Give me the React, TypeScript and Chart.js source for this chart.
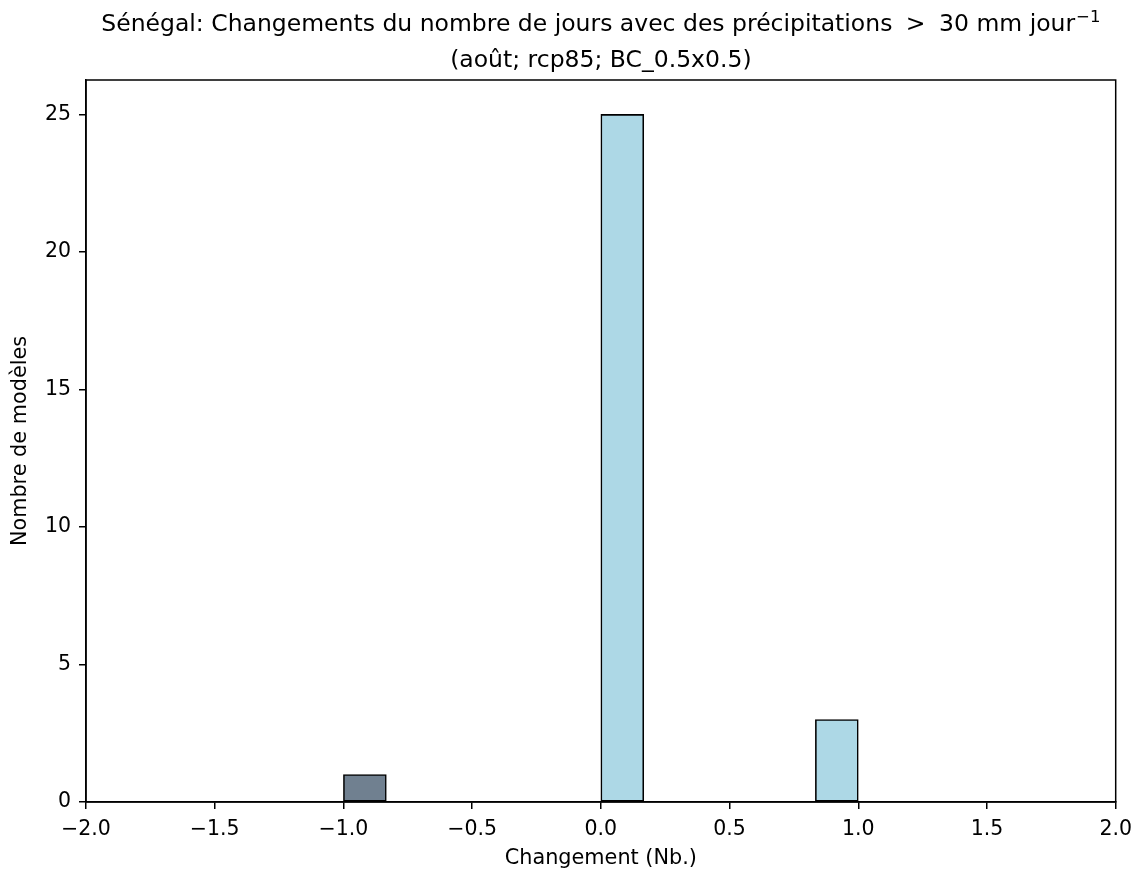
import { useEffect, useRef } from 'react';
import { Chart, registerables } from 'chart.js';

Chart.register(...registerables);

// ---- data ----
const binEdges = [-1, -0.833333, -0.666667, -0.5, -0.333333, -0.166667, 0, 0.166667, 0.333333, 0.5, 0.666667, 0.833333, 1];
const binCounts = [1, 0, 0, 0, 0, 0, 25, 0, 0, 0, 0, 3];
const xTicks = [-2, -1.5, -1, -0.5, 0, 0.5, 1, 1.5, 2];
const yTicks = [0, 5, 10, 15, 20, 25];
const xRange = [-2, 2];
const yRange = [0, 26.25];

const titleMain = 'Sénégal: Changements du nombre de jours avec des précipitations';
const titleRel = '>';
const titleTail = '30 mm jour';
const titleSup = '−1';
const titleLine2 = '(août; rcp85; BC_0.5x0.5)';
const xLabel = 'Changement (Nb.)';
const yLabel = 'Nombre de modèles';

const NEG_COLOR = '#708090';
const POS_COLOR = '#ADD8E6';
const FONT = '"DejaVu Sans"';
const TICK_SIZE = 20.5;
const LABEL_SIZE = 20.8;

const fmtX = (v: number) => {
  const s = Math.abs(v).toFixed(1);
  return v < 0 ? '\u2212' + s : s;
};

const framePlugin = {
  id: 'frameAndTitle',
  afterDraw(chart: any) {
    const { ctx, chartArea } = chart;
    const { left, right, top, bottom } = chartArea;
    ctx.save();
    ctx.strokeStyle = '#000';
    ctx.lineWidth = 1.5;
    ctx.strokeRect(left, top, right - left, bottom - top);

    // title
    const cx = (left + right) / 2;
    ctx.fillStyle = '#000';
    ctx.textBaseline = 'alphabetic';
    ctx.textAlign = 'left';
    const big = `23.5px ${FONT}`;
    const small = `16.5px ${FONT}`;
    ctx.font = big;
    const sp = ctx.measureText(' ').width;
    const relGap = 6;
    const wMain = ctx.measureText(titleMain).width;
    const wRel = ctx.measureText(titleRel).width;
    const wTail = ctx.measureText(titleTail).width;
    ctx.font = small;
    const wSup = ctx.measureText(titleSup).width;
    const total = wMain + sp + relGap + wRel + relGap + sp + wTail + 1 + wSup;
    let x = cx - total / 2;
    const y1 = 31;
    ctx.font = big;
    ctx.fillText(titleMain, x, y1);
    x += wMain + sp + relGap;
    ctx.fillText(titleRel, x, y1);
    x += wRel + relGap + sp;
    ctx.fillText(titleTail, x, y1);
    x += wTail + 1;
    ctx.font = small;
    ctx.fillText(titleSup, x, y1 - 9);

    ctx.font = big;
    ctx.textAlign = 'center';
    ctx.fillText(titleLine2, cx, 67);
    ctx.restore();
  },
};

export default function App() {
  const ref = useRef<HTMLCanvasElement | null>(null);

  useEffect(() => {
    document.body.style.margin = '0';
    const canvas = ref.current;
    if (!canvas) return;

    const centers = binCounts.map((_, i) => (binEdges[i] + binEdges[i + 1]) / 2);
    const data = centers.map((c, i) => ({ x: c, y: binCounts[i] }));
    const colors = centers.map((c) => (c < 0 ? NEG_COLOR : POS_COLOR));

    const chart = new Chart(canvas, {
      type: 'bar',
      data: {
        datasets: [
          {
            data: data as any,
            backgroundColor: colors,
            borderColor: '#000',
            borderWidth: 1.6,
            borderSkipped: false,
            barPercentage: 1,
            categoryPercentage: 1,
            grouped: false,
          } as any,
        ],
      },
      options: {
        responsive: false,
        animation: false,
        devicePixelRatio: 1,
        layout: { padding: { top: 80, right: 23, bottom: 0, left: 0 } },
        plugins: {
          legend: { display: false },
          tooltip: { enabled: false },
          title: { display: false },
        },
        scales: {
          x: {
            type: 'linear',
            min: xRange[0],
            max: xRange[1],
            offset: false,
            afterBuildTicks: (scale: any) => {
              scale.ticks = xTicks.map((v) => ({ value: v }));
            },
            afterFit: (scale: any) => {
              scale.height = 69;
            },
            ticks: {
              autoSkip: false,
              maxRotation: 0,
              padding: 8,
              color: '#000',
              font: { family: FONT, size: TICK_SIZE },
              callback: (v: any) => fmtX(Number(v)),
            },
            grid: {
              offset: false,
              drawOnChartArea: false,
              drawTicks: true,
              tickLength: 7,
              color: '#000',
              lineWidth: 1.5,
            },
            border: { display: true, color: '#000', width: 1.5 },
            title: {
              display: true,
              text: xLabel,
              color: '#000',
              font: { family: FONT, size: LABEL_SIZE },
              padding: { top: 0, bottom: 0 },
            },
          },
          y: {
            type: 'linear',
            min: yRange[0],
            max: yRange[1],
            afterBuildTicks: (scale: any) => {
              scale.ticks = yTicks.map((v) => ({ value: v }));
            },
            afterFit: (scale: any) => {
              scale.width = 86;
            },
            ticks: {
              padding: 8,
              color: '#000',
              font: { family: FONT, size: TICK_SIZE },
              callback: (v: any) => String(v),
            },
            grid: {
              offset: false,
              drawOnChartArea: false,
              drawTicks: true,
              tickLength: 7,
              color: '#000',
              lineWidth: 1.5,
            },
            border: { display: true, color: '#000', width: 1.5 },
            title: {
              display: true,
              text: yLabel,
              color: '#000',
              font: { family: FONT, size: LABEL_SIZE },
              padding: { top: 8, bottom: 0 },
            },
          },
        },
      } as any,
      plugins: [framePlugin],
    });

    return () => chart.destroy();
  }, []);

  return <canvas ref={ref} width={1140} height={871} style={{ display: 'block' }} />;
}
